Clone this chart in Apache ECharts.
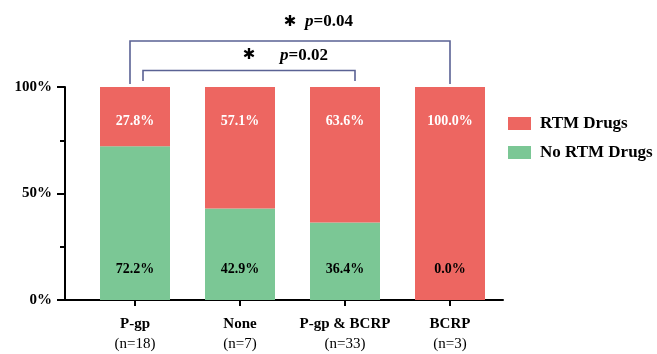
<!DOCTYPE html>
<html><head><meta charset="utf-8">
<script src="https://cdn.jsdelivr.net/npm/echarts@6/dist/echarts.min.js"></script>
<style>html,body{margin:0;padding:0;background:#fff}#c{width:657px;height:354px}</style>
</head><body><div id="c"></div>
<script>
const categories = ['P-gp', 'None', 'P-gp & BCRP', 'BCRP'];
const sampleSizes = [18, 7, 33, 3];
const noRtmDrugs = [72.2, 42.9, 36.4, 0.0];
const rtmDrugs = [27.8, 57.1, 63.6, 100.0];
const yTickValues = [0, 50, 100];
const comparisons = [
  { from: 0, to: 2, p: '0.02' },
  { from: 0, to: 3, p: '0.04' }
];

const SERIF = "'Liberation Serif', 'Times New Roman', serif";
const RED = '#ED6661';
const GREEN = '#7BC795';
const BRACKET = '#5A6294';

const chart = echarts.init(document.getElementById('c'), null, { renderer: 'canvas' });

chart.setOption({
  animation: false,
  backgroundColor: '#fff',
  grid: [
    { left: 65, right: 154, top: 87, bottom: 54, containLabel: false },
    { left: 82.5, right: 154.5, top: 87, bottom: 54, containLabel: false }
  ],
  legend: {
    orient: 'vertical', left: 503, top: 110,
    itemWidth: 23, itemHeight: 13, itemGap: 12,
    icon: 'rect',
    data: ['RTM Drugs', 'No RTM Drugs'],
    textStyle: { fontFamily: SERIF, fontWeight: 'bold', fontSize: 17, color: '#000', padding: [0, 0, 0, 4] }
  },
  xAxis: [
    {
      gridIndex: 0, type: 'value', min: 0, max: 1,
      axisLine: { show: true, onZero: false, lineStyle: { color: '#000', width: 2 } },
      axisTick: { show: false }, axisLabel: { show: false }, splitLine: { show: false }
    },
    {
      gridIndex: 1, type: 'category', data: categories,
      axisLine: { show: false, onZero: false },
      axisTick: { show: true, alignWithLabel: true, length: 6, lineStyle: { color: '#000', width: 2 } },
      axisLabel: {
        margin: 14, interval: 0,
        formatter: (v, i) => '{b|' + v + '}\n{n|(n=' + sampleSizes[i] + ')}',
        rich: {
          b: { fontFamily: SERIF, fontWeight: 'bold', fontSize: 15, color: '#000', lineHeight: 20 },
          n: { fontFamily: SERIF, fontSize: 15, color: '#000', lineHeight: 20 }
        }
      }
    }
  ],
  yAxis: [
    {
      gridIndex: 0, type: 'value', min: 0, max: 100, interval: 50,
      axisLine: { show: true, onZero: false, lineStyle: { color: '#000', width: 2 } },
      axisTick: { show: true, length: 8, lineStyle: { color: '#000', width: 2 } },
      minorTick: { show: true, splitNumber: 2, length: 5, lineStyle: { color: '#000', width: 2 } },
      splitLine: { show: false },
      axisLabel: {
        margin: 13, fontFamily: SERIF, fontWeight: 'bold', fontSize: 15, color: '#000',
        formatter: v => yTickValues.includes(v) ? v + '%' : ''
      }
    },
    {
      gridIndex: 1, type: 'value', min: 0, max: 100, show: false
    }
  ],
  series: [
    {
      name: 'No RTM Drugs', type: 'bar', stack: 's', barWidth: 70,
      xAxisIndex: 1, yAxisIndex: 1,
      itemStyle: { color: GREEN },
      data: noRtmDrugs,
      label: {
        show: true, position: 'insideBottom', distance: 24,
        fontFamily: SERIF, fontWeight: 'bold', fontSize: 14, color: '#000',
        formatter: p => Number(p.value).toFixed(1) + '%'
      }
    },
    {
      name: 'RTM Drugs', type: 'bar', stack: 's', barWidth: 70,
      xAxisIndex: 1, yAxisIndex: 1,
      itemStyle: { color: RED },
      data: rtmDrugs,
      label: {
        show: true, position: 'insideTop', distance: 27,
        fontFamily: SERIF, fontWeight: 'bold', fontSize: 14, color: '#fff',
        formatter: p => Number(p.value).toFixed(1) + '%'
      }
    }
  ]
});

// significance brackets, positioned from the axes
const px = (i, v) => chart.convertToPixel({ xAxisIndex: 1, yAxisIndex: 1 }, [i, v]);
const yTop = px(0, 100)[1];
const bracketStyle = [
  { dxL: 8, dxR: 10, top: 16.5, legEnd: 6, textDy: 15, pDx: 31 },
  { dxL: -5, dxR: 0, top: 46, legEnd: 3, textDy: 19, pDx: 15 }
];
const graphics = [];
comparisons.forEach((c, k) => {
  const s = bracketStyle[k];
  const xL = px(c.from, 0)[0] + s.dxL;
  const xR = px(c.to, 0)[0] + s.dxR;
  const yB = yTop - s.top;
  const yLeg = yTop - s.legEnd;
  graphics.push({
    type: 'polyline', silent: true,
    shape: { points: [[xL, yLeg], [xL, yB], [xR, yB], [xR, yLeg]] },
    style: { stroke: BRACKET, lineWidth: 1.6, fill: null }
  });
  const mid = (xL + xR) / 2;
  graphics.push({
    type: 'text', silent: true,
    style: { text: '\u2731', x: mid, y: yB - s.textDy, textAlign: 'center', textVerticalAlign: 'middle',
      font: 'bold 15px "DejaVu Sans"', fill: '#000' }
  });
  graphics.push({
    type: 'text', silent: true,
    style: { text: '{i|p}{b|=' + c.p + '}', x: mid + s.pDx, y: yB - s.textDy, textAlign: 'left', textVerticalAlign: 'middle',
      rich: {
        i: { fontFamily: SERIF, fontStyle: 'italic', fontWeight: 'bold', fontSize: 17, fill: '#000' },
        b: { fontFamily: SERIF, fontWeight: 'bold', fontSize: 17, fill: '#000' }
      } }
  });
});
chart.setOption({ graphic: graphics });
</script>
</body></html>
